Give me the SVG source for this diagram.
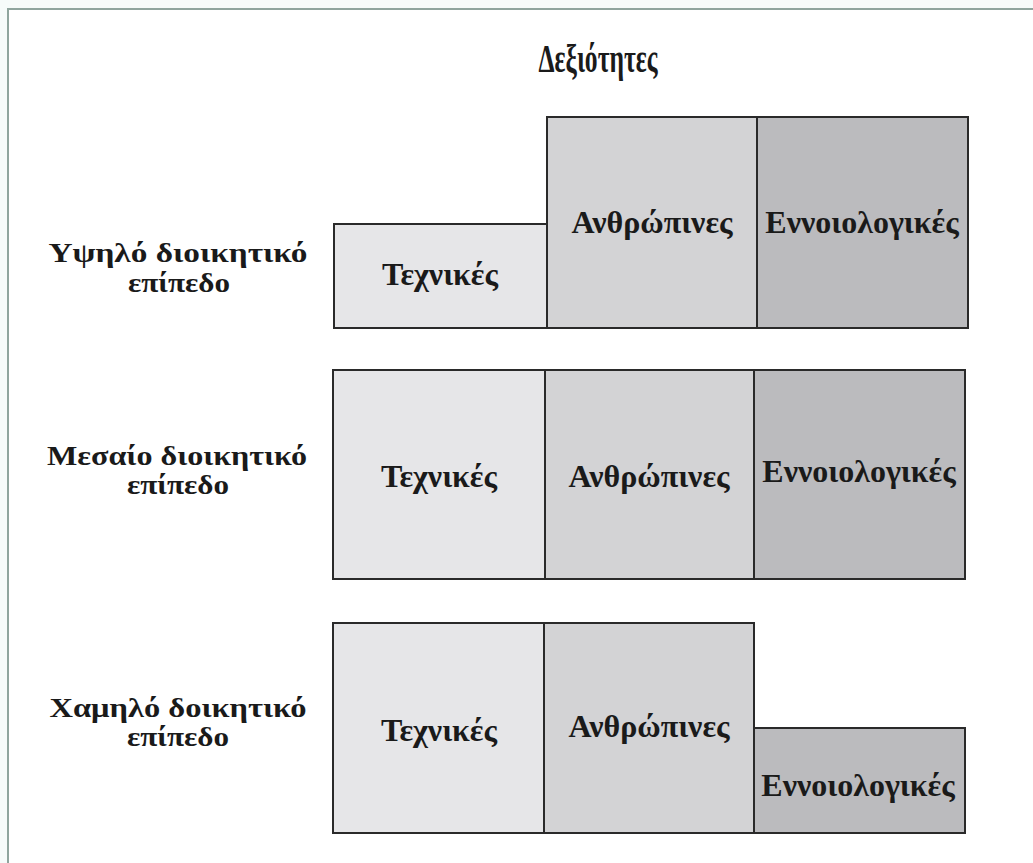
<svg xmlns="http://www.w3.org/2000/svg" width="1033" height="863" viewBox="0 0 1033 863">
<style>
.t{font-family:"Liberation Serif","Times New Roman",serif;font-weight:bold;fill:#1a1a1a;text-anchor:middle}
.lbl{font-size:32px}
.side{font-size:27px}
.box{stroke:#2a2a2a;stroke-width:2}
.c1{fill:#e6e6e8}.c2{fill:#d3d3d5}.c3{fill:#bbbbbe}
</style>
<rect x="0" y="0" width="1033" height="863" fill="#f6fbfa"/>
<rect x="8" y="9" width="1025" height="854" fill="#ffffff"/>
<path d="M8 863 V9 H1033" fill="none" stroke="#8fa59e" stroke-width="2"/>
<text class="t" x="598" y="72" font-size="39" textLength="119" lengthAdjust="spacingAndGlyphs">Δεξιότητες</text>
<g id="top">
<g id="top-label"><text class="t side" x="178" y="262" textLength="259" lengthAdjust="spacingAndGlyphs">Υψηλό διοικητικό</text><text class="t side" x="179" y="292" textLength="102" lengthAdjust="spacingAndGlyphs">επίπεδο</text></g>
<g id="top-tech"><rect class="box c1" x="334" y="224" width="213" height="104"/><text class="t lbl" x="440" y="285">Τεχνικές</text></g>
<g id="top-human"><rect class="box c2" x="547" y="117" width="210" height="211"/><text class="t lbl" x="652" y="233">Ανθρώπινες</text></g>
<g id="top-concept"><rect class="box c3" x="757" y="117" width="211" height="211"/><text class="t lbl" x="862" y="233">Εννοιολογικές</text></g>
</g>
<g id="mid">
<g id="mid-label"><text class="t side" x="177" y="465" textLength="260" lengthAdjust="spacingAndGlyphs">Μεσαίο διοικητικό</text><text class="t side" x="178" y="494" textLength="102" lengthAdjust="spacingAndGlyphs">επίπεδο</text></g>
<g id="mid-tech"><rect class="box c1" x="333" y="370" width="212" height="209"/><text class="t lbl" x="439" y="487">Τεχνικές</text></g>
<g id="mid-human"><rect class="box c2" x="545" y="370" width="209" height="209"/><text class="t lbl" x="649" y="487">Ανθρώπινες</text></g>
<g id="mid-concept"><rect class="box c3" x="754" y="370" width="211" height="209"/><text class="t lbl" x="859" y="482">Εννοιολογικές</text></g>
</g>
<g id="low">
<g id="low-label"><text class="t side" x="178" y="717" textLength="257" lengthAdjust="spacingAndGlyphs">Χαμηλό δοικητικό</text><text class="t side" x="178" y="746" textLength="102" lengthAdjust="spacingAndGlyphs">επίπεδο</text></g>
<g id="low-tech"><rect class="box c1" x="333" y="623" width="211" height="210"/><text class="t lbl" x="439" y="741">Τεχνικές</text></g>
<g id="low-human"><rect class="box c2" x="544" y="623" width="210" height="210"/><text class="t lbl" x="649" y="737">Ανθρώπινες</text></g>
<g id="low-concept"><rect class="box c3" x="754" y="728" width="211" height="105"/><text class="t lbl" x="858" y="796">Εννοιολογικές</text></g>
</g>
<g id="connectors"/>
</svg>
